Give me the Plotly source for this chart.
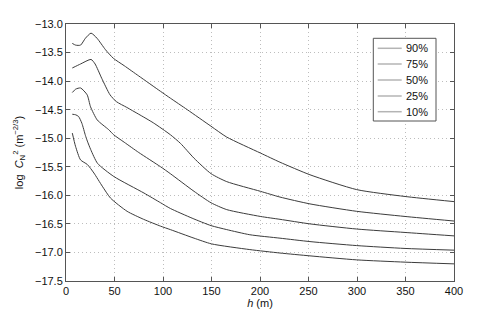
import plotly.graph_objects as go

labels = ["90%", "75%", "50%", "25%", "10%"]

h90 = [6.5, 10, 15, 20, 25.8, 32, 40.7, 48.8, 60, 75, 97.5, 107.7, 125, 149.5, 165.7, 200.5, 220.6, 251.5, 299.7, 349.5, 400]
v90 = [-13.34, -13.37, -13.37, -13.25, -13.16, -13.25, -13.45, -13.60, -13.73, -13.91, -14.18, -14.30, -14.50, -14.79, -14.98, -15.26, -15.42, -15.64, -15.90, -16.02, -16.11]

h75 = [6.5, 15, 25.8, 30, 36.8, 45.4, 52, 62.6, 75, 90, 107.7, 118, 132, 149.5, 165.7, 200.5, 220.6, 251.5, 299.7, 349.5, 400]
v75 = [-13.77, -13.70, -13.62, -13.70, -13.95, -14.24, -14.36, -14.46, -14.58, -14.73, -14.94, -15.09, -15.35, -15.62, -15.76, -15.93, -16.03, -16.15, -16.28, -16.37, -16.45]

h50 = [6.5, 10, 15, 21.8, 25.3, 32.2, 44, 49.2, 60, 75, 97.5, 107.5, 132, 149.5, 165.7, 200.5, 220.6, 251.5, 299.7, 349.5, 400]
v50 = [-14.20, -14.14, -14.12, -14.24, -14.45, -14.68, -14.85, -14.94, -15.07, -15.25, -15.50, -15.62, -15.93, -16.13, -16.25, -16.37, -16.42, -16.50, -16.59, -16.65, -16.71]

h25 = [6.5, 10, 13, 16.4, 20, 22, 25.5, 32.5, 49.3, 80.4, 97.5, 107.6, 130, 149.5, 165.7, 189.5, 220.6, 251.5, 299.7, 349.5, 400]
v25 = [-14.58, -14.59, -14.62, -14.74, -14.95, -15.05, -15.20, -15.44, -15.67, -15.96, -16.13, -16.23, -16.40, -16.53, -16.60, -16.69, -16.75, -16.81, -16.88, -16.93, -16.96]

h10 = [6.5, 9.8, 15, 22, 28.8, 37.4, 46, 63, 80, 97.5, 107.6, 132, 150, 189.5, 220.6, 251.5, 299.7, 349.5, 400]
v10 = [-14.91, -15.14, -15.38, -15.46, -15.61, -15.84, -16.05, -16.28, -16.42, -16.54, -16.60, -16.75, -16.85, -16.95, -17.01, -17.06, -17.13, -17.17, -17.20]

series = [(h90, v90), (h75, v75), (h50, v50), (h25, v25), (h10, v10)]

# page body has an 8px default margin; compensate so the plot lands where the reference has it
OFF = 8
W, H = 501, 318
L, T = 66 - OFF, 24 - OFF
PW, PH = 388, 257
R, B = W - L - PW, H - T - PH

def px(x):
    return (x - OFF - L) / PW

def py(y):
    return 1 - (y - OFF - T) / PH

fig = go.Figure()
for (hx, vy), lab in zip(series, labels):
    fig.add_trace(go.Scatter(x=hx, y=vy, mode="lines", showlegend=False, name=lab,
                             line=dict(color="#3c3c3c", width=1, shape="spline", smoothing=0.6)))

axis_common = dict(showline=True, linecolor="#555555", linewidth=1, mirror="ticks",
                   ticks="inside", ticklen=4, tickcolor="#555555",
                   showgrid=True, gridcolor="#bdbdbd", griddash="1px,3px", gridwidth=1,
                   zeroline=False, automargin=False, tickfont=dict(size=11, color="#111111"))

fig.update_xaxes(range=[0, 400], dtick=50, tick0=0,
                 title=dict(text="<i>h</i> (m)", standoff=0, font=dict(size=11, color="#111111")),
                 **axis_common)
fig.update_yaxes(range=[-17.5, -13.0], dtick=0.5, tick0=-17.5, tickformat=".1f",
                 title=dict(text="log  <i>C</i><sub>N</sub><sup>2</sup> (m<sup>−2/3</sup>)", standoff=9,
                            font=dict(size=11, color="#111111")),
                 **axis_common)

shapes = [dict(type="rect", xref="paper", yref="paper",
               x0=px(373.3), x1=px(436), y0=py(121), y1=py(38.3),
               line=dict(color="#555555", width=1), fillcolor="white", layer="above")]
annotations = []
ys = [48.3, 64, 80, 96, 111.7]
for lab, yy in zip(labels, ys):
    shapes.append(dict(type="line", xref="paper", yref="paper",
                       x0=px(377.7), x1=px(401.7), y0=py(yy), y1=py(yy),
                       line=dict(color="#b4b4b4", width=1.5), layer="above"))
    annotations.append(dict(xref="paper", yref="paper", x=px(404), y=py(yy),
                            text=lab, showarrow=False, xanchor="left", yanchor="middle",
                            font=dict(size=11, color="#111111")))

fig.update_layout(
    width=W, height=H,
    margin=dict(l=L, r=R, t=T, b=B),
    plot_bgcolor="white", paper_bgcolor="white",
    font=dict(family="Liberation Sans, Arial, sans-serif", size=11, color="#111111"),
    showlegend=False,
    shapes=shapes, annotations=annotations,
)

fig.write_html("out.html")
